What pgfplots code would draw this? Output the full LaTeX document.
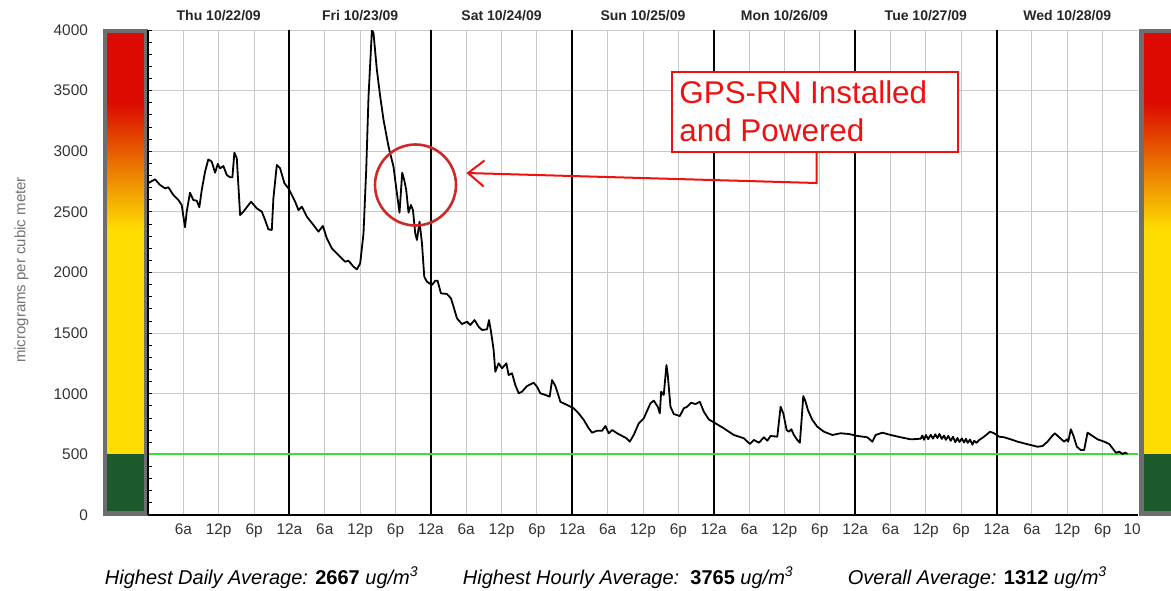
\documentclass[border=0pt]{standalone}
\usepackage{fontspec}
\setmainfont{Liberation Sans}
\usepackage{pgfplots}
\pgfplotsset{compat=1.18}
\usetikzlibrary{arrows.meta}
\definecolor{barborder}{HTML}{6E6E6E}
\definecolor{bargreen}{HTML}{1B5A2B}
\definecolor{baryellow}{HTML}{FFDD00}
\definecolor{barorange}{HTML}{F09A00}
\definecolor{barred}{HTML}{DC0A00}
\definecolor{gridgray}{HTML}{C8C8C8}
\definecolor{labelgray}{HTML}{333333}
\definecolor{limegreen}{HTML}{3DDC3D}
\definecolor{annred}{HTML}{F01010}
\definecolor{circred}{HTML}{D02828}
\begin{document}
\begin{tikzpicture}
\fill[white] (-74pt,-37.5pt) rectangle (511.5pt,257.5pt);
\path[use as bounding box] (-74pt,-37.5pt) rectangle (511.5pt,257.5pt);
\begin{axis}[
  scale only axis, width=495pt, height=242.5pt,
  xmin=0, xmax=168, ymin=0, ymax=4000,
  axis x line*=bottom, axis y line*=left,
  axis line style={-, black, line width=0.6pt},
  xtick={6,12,...,162},
  xticklabels={6a,\raisebox{-1.5pt}{12p},\raisebox{-1.5pt}{6p},12a,6a,\raisebox{-1.5pt}{12p},\raisebox{-1.5pt}{6p},12a,6a,\raisebox{-1.5pt}{12p},\raisebox{-1.5pt}{6p},12a,6a,\raisebox{-1.5pt}{12p},\raisebox{-1.5pt}{6p},12a,6a,\raisebox{-1.5pt}{12p},\raisebox{-1.5pt}{6p},12a,6a,\raisebox{-1.5pt}{12p},\raisebox{-1.5pt}{6p},12a,6a,\raisebox{-1.5pt}{12p},\raisebox{-1.5pt}{6p}},
  extra x ticks={167}, extra x tick labels={10},
  extra x tick style={grid=none},
  ytick={0,500,...,4000}, minor y tick num=4,
  xmajorgrids, ymajorgrids,
  grid style={gridgray, line width=0.5pt},
  tick align=inside, major tick length=2pt, minor tick length=2pt,
  xtick style={draw=none},
  ytick style={black, line width=0.4pt},
  ticklabel style={font=\fontsize{7.7}{9}\selectfont, text=labelgray},
  yticklabel style={xshift=-26.5pt},
  xticklabel style={yshift=-1pt},
  /pgf/number format/assume math mode=true,
  /pgf/number format/1000 sep={},
]
\pgfplotsinvokeforeach{24,48,72,96,120,144}{\draw[black,line width=1pt] (axis cs:#1,0) -- (axis cs:#1,4000);}
\addplot[limegreen, line width=1pt] coordinates {(0,500) (168,500)};
\addplot[black, line width=0.9pt, line join=round] coordinates {
(0,2736) (1.19,2769) (2.04,2722) (2.89,2694) (3.45,2703) (4.30,2639) (5.15,2598) (5.72,2557) (6.28,2373) (6.57,2502) (7.13,2658) (7.69,2598) (8.27,2592) (8.71,2538) (9.12,2680) (9.68,2831) (10.24,2933) (10.82,2914) (11.38,2823) (11.84,2895) (12.23,2859) (12.79,2878) (13.37,2804) (13.93,2785) (14.32,2785) (14.66,2988) (15.07,2942) (15.63,2474) (16.19,2502) (17.49,2584) (18.46,2529) (19.31,2502) (19.87,2433) (20.43,2356) (21.01,2351) (21.28,2612) (21.86,2887) (22.42,2859) (23.15,2736) (23.83,2694) (24.12,2667) (24.97,2584) (25.53,2515) (26.11,2543) (26.96,2460) (28.08,2392) (28.93,2337) (29.67,2384) (30.35,2282) (31.20,2199) (32.32,2144) (33.46,2089) (34.02,2097) (34.87,2048) (35.45,2026) (36.01,2076) (36.57,2323) (37.03,2845) (37.42,3450) (38.00,4000) (38.27,3973) (38.84,3670) (39.41,3450) (39.97,3258) (40.82,3038) (41.66,2873) (42.24,2653) (42.68,2494) (43.14,2823) (43.48,2763) (43.82,2680) (44.21,2494) (44.62,2557) (44.96,2515) (45.35,2323) (45.64,2268) (46.08,2419) (46.49,2241) (46.88,1965) (47.34,1924) (48.19,1897) (48.75,1932) (49.14,1932) (49.71,1828) (50.73,1823) (51.41,1787) (51.85,1718) (52.43,1622) (53.28,1575) (54.13,1594) (54.69,1567) (55.42,1608) (56.10,1553) (56.68,1526) (57.53,1531) (57.87,1608) (58.21,1512) (58.65,1361) (58.94,1182) (59.50,1251) (60.08,1210) (60.81,1251) (61.20,1155) (61.77,1169) (62.33,1072) (62.90,1004) (63.47,1017) (64.32,1064) (65.44,1091) (66.02,1058) (66.58,1004) (67.43,990) (68.16,976) (68.57,1113) (69.13,1064) (69.98,934) (71.12,907) (72.24,880) (73.09,838) (73.94,784) (74.79,715) (75.36,679) (76.21,695) (77.06,695) (77.62,734) (78.18,674) (78.76,701) (79.61,674) (80.46,652) (81.19,633) (81.75,605) (82.43,660) (83.28,756) (84.13,797) (85.26,921) (85.83,943) (86.51,893) (86.85,838) (87.08,1017) (87.52,990) (87.98,1237) (88.20,1155) (88.66,893) (89.22,833) (90.24,816) (90.92,880) (91.50,893) (92.18,926) (92.91,915) (93.64,934) (94.32,852) (95.17,788) (96.31,756) (97.71,715) (99.41,660) (101.11,633) (102.13,586) (102.82,619) (103.67,596) (104.52,641) (105.09,613) (105.65,652) (106.79,646) (107.35,893) (107.81,838) (108.37,701) (108.76,687) (109.17,707) (109.61,660) (110.18,619) (110.62,596) (110.91,784) (111.20,981) (111.59,934) (111.98,866) (112.73,784) (113.58,728) (114.70,687) (116.13,660) (117.54,674) (118.95,668) (120.37,652) (122.07,641) (122.92,605) (123.48,660) (124.62,679) (126.03,660) (127.73,641) (129.43,624) (131.13,629) (131.4,655) (131.7,620) (132.0,660) (132.4,625) (132.82,662) (133.2,630) (133.6,665) (133.96,635) (134.3,668) (134.7,628) (135.08,655) (135.4,620) (135.8,652) (136.22,612) (136.6,645) (137.0,600) (137.35,635) (137.7,602) (138.1,632) (138.48,598) (138.8,628) (139.1,595) (139.5,622) (139.9,580) (140.2,612) (140.6,595) (141.03,618) (141.88,646) (142.90,687) (143.58,674) (144.43,646) (145.28,641) (146.41,624) (147.55,605) (148.67,591) (149.81,577) (150.95,563) (151.80,569) (152.65,605) (153.33,646) (153.89,674) (154.62,641) (155.47,605) (155.93,624) (156.15,605) (156.60,707) (157.06,652) (157.62,563) (158.30,536) (158.86,536) (159.43,679) (160.28,652) (161.14,624) (162.26,605) (163.11,586) (163.68,550) (164.25,514) (164.81,522) (165.38,503) (165.78,514) (166.2,505)
};
\end{axis}
% left colour bar
\fill[barborder] (-22.5pt,-0.5pt) rectangle (0pt,243pt);
\fill[bargreen] (-20.5pt,2pt) rectangle (-2pt,30.3pt);
\fill[baryellow] (-20.5pt,30.3pt) rectangle (-2pt,142.5pt);
\shade[bottom color=baryellow, top color=barorange] (-20.5pt,142.5pt) rectangle (-2pt,163.7pt);
\shade[bottom color=barorange, top color=barred] (-20.5pt,163.7pt) rectangle (-2pt,206pt);
\fill[barred] (-20.5pt,206pt) rectangle (-2pt,241pt);
\draw[black, line width=0.6pt] (0pt,0pt) -- (0pt,242.5pt);
% right colour bar
\fill[barborder] (495.5pt,-0.5pt) rectangle (520pt,243pt);
\fill[bargreen] (498pt,2pt) rectangle (520pt,30.3pt);
\fill[baryellow] (498pt,30.3pt) rectangle (520pt,142.5pt);
\shade[bottom color=baryellow, top color=barorange] (498pt,142.5pt) rectangle (520pt,163.7pt);
\shade[bottom color=barorange, top color=barred] (498pt,163.7pt) rectangle (520pt,206pt);
\fill[barred] (498pt,206pt) rectangle (520pt,241pt);
% day labels
\foreach \lab [count=\i from 0] in {Thu 10/22/09,Fri 10/23/09,Sat 10/24/09,Sun 10/25/09,Mon 10/26/09,Tue 10/27/09,Wed 10/28/09}{
  \node[font=\fontsize{7}{8}\selectfont\bfseries, text=black!85] at ({35.357pt+\i*70.714pt},249.5pt) {\lab};
}
% y label
\node[rotate=90, font=\fontsize{7.5}{9}\selectfont, text=black!55] at (-63.25pt,122.5pt) {micrograms per cubic meter};
% bottom summary
\node[anchor=base west, inner sep=0pt, font=\fontsize{10}{12}\selectfont\itshape] at (-21.75pt,-34.5pt) {Highest Daily Average: {\upshape\bfseries 2667} ug/m\textsuperscript{3}};
\node[anchor=base west, inner sep=0pt, font=\fontsize{10}{12}\selectfont\itshape] at (157.25pt,-34.5pt) {Highest Hourly Average:\ \ {\upshape\bfseries 3765} ug/m\textsuperscript{3}};
\node[anchor=base west, inner sep=0pt, font=\fontsize{10}{12}\selectfont\itshape] at (349.75pt,-34.5pt) {Overall Average: {\upshape\bfseries 1312} ug/m\textsuperscript{3}};
% annotation
\fill[white] (261.75pt,181.5pt) rectangle (404.75pt,221.5pt);
\draw[annred, line width=1pt] (261.75pt,181.5pt) rectangle (404.75pt,221.5pt);
\node[anchor=base west, inner sep=0pt, text=annred, font=\fontsize{15.7}{19}\selectfont] at (265.5pt,205.5pt) {GPS-RN Installed};
\node[anchor=base west, inner sep=0pt, text=annred, font=\fontsize{15.7}{19}\selectfont] at (265.5pt,186.5pt) {and Powered};
\draw[circred, line width=1.3pt] (133.75pt,165pt) circle (20.25pt);
\draw[annred, line width=1pt, -{Straight Barb[length=8pt,width=13pt]}] (334.25pt,181.5pt) -- (334.25pt,166pt) -- (159.25pt,171pt);
\end{tikzpicture}
\end{document}
